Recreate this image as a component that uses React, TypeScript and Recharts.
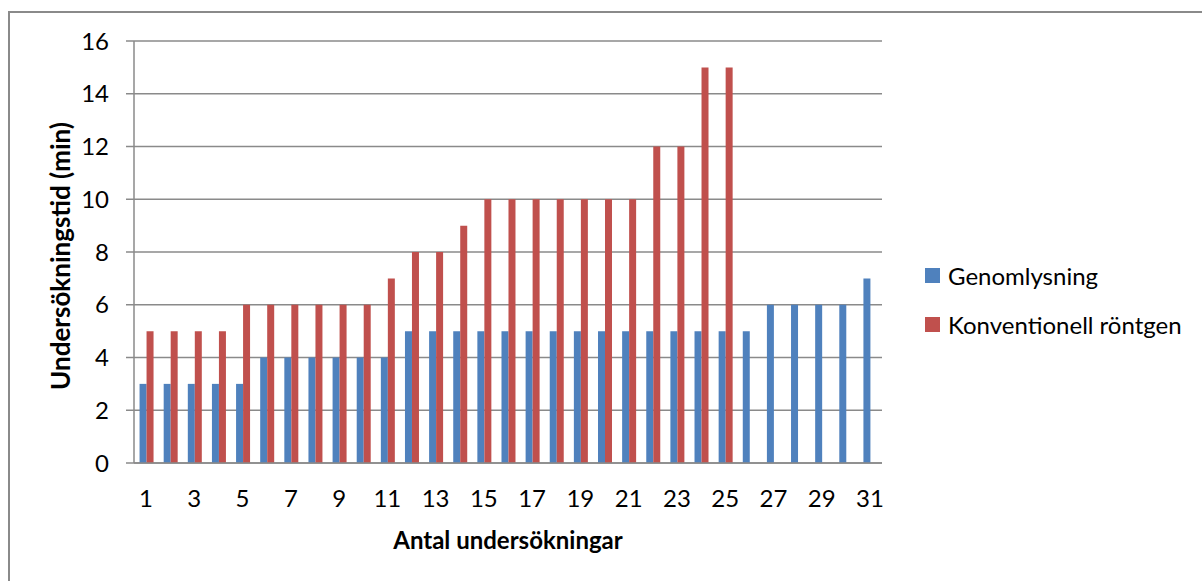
import React from "react";
import {
  Bar,
  BarChart,
  CartesianGrid,
  Legend,
  XAxis,
  YAxis
} from "recharts";

// antal undersökningar 1..31
const categories: number[] = [
  1, 2, 3, 4, 5, 6, 7, 8, 9, 10, 11, 12, 13, 14, 15, 16,
  17, 18, 19, 20, 21, 22, 23, 24, 25, 26, 27, 28, 29, 30, 31,
];

const genomlysning: number[] = [
  3, 3, 3, 3, 3, 4, 4, 4, 4, 4, 4, 5, 5, 5, 5, 5,
  5, 5, 5, 5, 5, 5, 5, 5, 5, 5, 6, 6, 6, 6, 7,
];

const konventionell: (number | null)[] = [
  5, 5, 5, 5, 6, 6, 6, 6, 6, 6, 7, 8, 8, 9, 10, 10,
  10, 10, 10, 10, 10, 12, 12, 15, 15, null, null, null, null, null, null,
];

const yTicks: number[] = [0, 2, 4, 6, 8, 10, 12, 14, 16];

const seriesNames = ["Genomlysning", "Konventionell röntgen"];
const colors = ["#4F81BD", "#C0504D"];

const data = categories.map((c, i) => ({
  n: c,
  g: genomlysning[i],
  k: konventionell[i],
}));

const FONT = "Lato, 'Open Sans', sans-serif";
const GRID = "#8a8a8a";

const LegendBox: React.FC = () => (
  <div style={{ fontFamily: FONT, fontSize: 24, color: "#000" }}>
    {seriesNames.map((name, i) => (
      <div
        key={name}
        style={{ height: 49, display: "flex", alignItems: "center", whiteSpace: "nowrap" }}
      >
        <span
          style={{
            display: "inline-block",
            width: 15,
            height: 15,
            background: colors[i],
            marginRight: 8,
          }}
        />
        {name}
      </div>
    ))}
  </div>
);

const YTitle = (props: any) => {
  const vb = props.viewBox || { x: 0, y: 0, width: 0, height: 0 };
  const x = vb.x + 60;
  const y = vb.y + vb.height / 2 + 4;
  return (
    <text
      x={x}
      y={y}
      transform={`rotate(-90, ${x}, ${y})`}
      textAnchor="middle"
      dominantBaseline="central"
      fill="#000"
      fontSize={26}
      fontWeight="bold"
      fontFamily={FONT}
    >
      Undersökningstid (min)
    </text>
  );
};

const App: React.FC = () => {
  return (
    <div
      style={{
        position: "absolute",
        left: 0,
        top: 0,
        width: 1202,
        height: 581,
        background: "#fff",
        overflow: "hidden",
      }}
    >
      <div
        style={{
          position: "absolute",
          left: 8,
          top: 11,
          width: 1400,
          height: 800,
          borderTop: `2px solid ${GRID}`,
          borderLeft: `2px solid ${GRID}`,
        }}
      />
      <div style={{ position: "absolute", left: 0, top: 0 }}>
        <BarChart
          width={1202}
          height={581}
          data={data}
          barCategoryGap="23%"
          barGap={0}
          margin={{ top: 41, right: 320, bottom: 0, left: 0 }}
        >
          <CartesianGrid vertical={false} stroke={GRID} strokeWidth={1.5} />
          <XAxis
            dataKey="n"
            interval={1}
            height={118}
            tickLine={false}
            tickSize={8}
            tickMargin={19}
            axisLine={{ stroke: GRID, strokeWidth: 1.5 }}
            tick={{ fill: "#000", fontSize: 24, fontFamily: FONT }}
            label={{
              value: "Antal undersökningar",
              position: "center",
              dy: 18,
              fill: "#000",
              fontSize: 24,
              fontWeight: "bold",
              fontFamily: FONT,
            }}
          />
          <YAxis
            width={134}
            domain={[0, 16]}
            ticks={yTicks}
            interval={0}
            tickSize={8}
            tickMargin={17}
            tickLine={{ stroke: GRID, strokeWidth: 1.5 }}
            axisLine={{ stroke: GRID, strokeWidth: 1.5 }}
            tick={{ fill: "#000", fontSize: 24, fontFamily: FONT }}
            label={{ content: YTitle }}
          />
          <Legend
            layout="horizontal"
            verticalAlign="middle"
            align="center"
            content={() => <LegendBox />}
            wrapperStyle={{ left: 925, top: 251, width: 270 }}
          />
          <Bar dataKey="g" name={seriesNames[0]} fill={colors[0]} isAnimationActive={false} />
          <Bar dataKey="k" name={seriesNames[1]} fill={colors[1]} isAnimationActive={false} />
        </BarChart>
      </div>
    </div>
  );
};

export default App;
